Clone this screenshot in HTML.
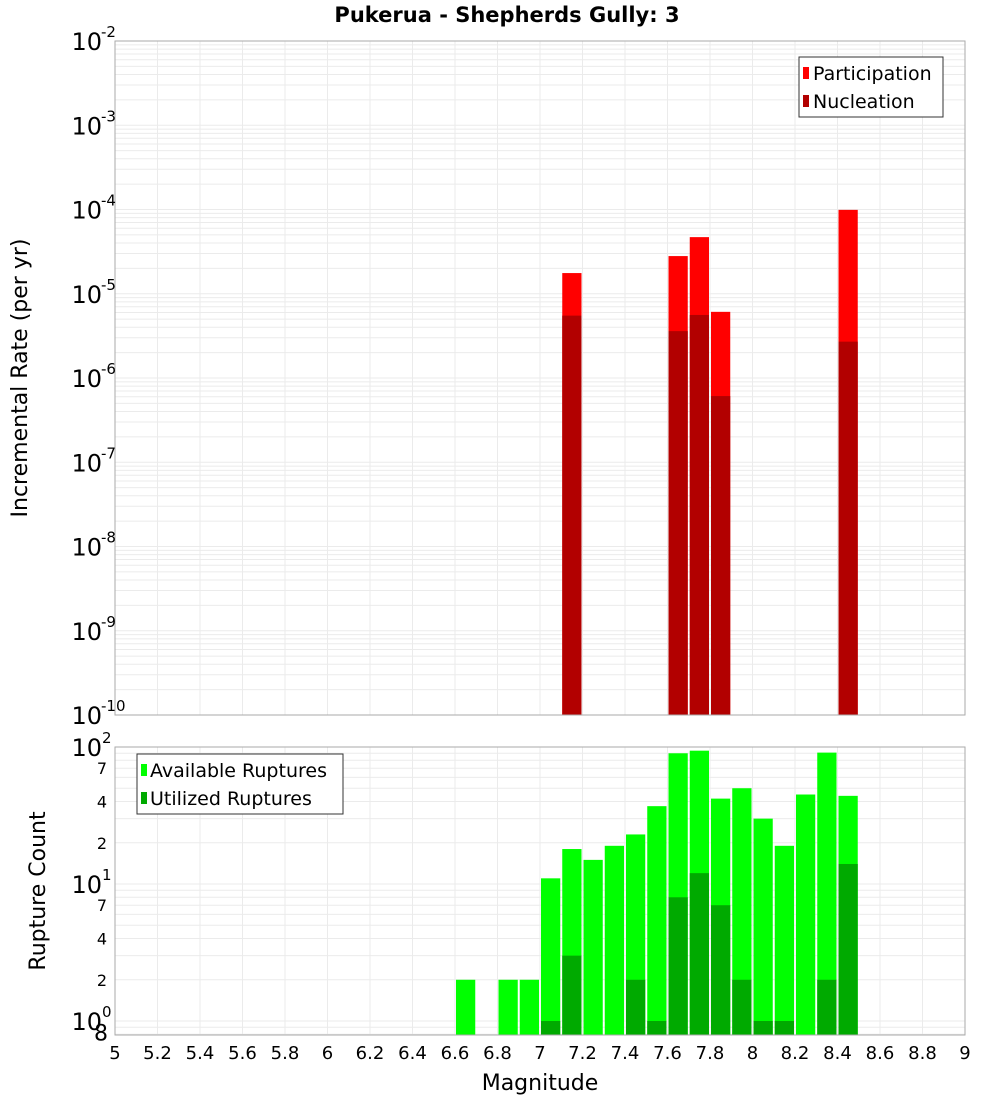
<!DOCTYPE html>
<html><head><meta charset="utf-8"><style>
body{margin:0;background:#fff;}
svg text{font-family:"DejaVu Sans","Liberation Sans",sans-serif;}
</style></head><body>
<svg id="c" width="1000" height="1100" xmlns="http://www.w3.org/2000/svg">
<rect width="1000" height="1100" fill="#fff"/>
<text x="507" y="22" text-anchor="middle" font-size="21" font-weight="bold">Pukerua - Shepherds Gully: 3</text>
<g id="topg"></g><g id="botg"></g>
<text transform="translate(27,378) rotate(-90)" text-anchor="middle" font-size="22">Incremental Rate (per yr)</text>
<text transform="translate(45,891) rotate(-90)" text-anchor="middle" font-size="22">Rupture Count</text>
<text x="540" y="1090" text-anchor="middle" font-size="22">Magnitude</text>
</svg>
<script>
const mags=[7.15,7.65,7.75,7.85,8.45];
const participation=[1.76e-5,2.8e-5,4.7e-5,6.1e-6,9.9e-5];
const nucleation=[5.5e-6,3.6e-6,5.6e-6,6.1e-7,2.7e-6];
const countMags=[6.65,6.85,6.95,7.05,7.15,7.25,7.35,7.45,7.55,7.65,7.75,7.85,7.95,8.05,8.15,8.25,8.35,8.45];
const available=[2,2,2,11,18,15,19,23,37,90,94,42,50,30,19,45,91,44];
const utilized=[0,0,0,1,3,0,0,2,1,8,12,7,2,1,1,0,2,14];
const xTicks=[5,5.2,5.4,5.6,5.8,6,6.2,6.4,6.6,6.8,7,7.2,7.4,7.6,7.8,8,8.2,8.4,8.6,8.8,9];

const NS="http://www.w3.org/2000/svg";
const X0=115,X1=965;
const x=m=>X0+(m-5)/4*(X1-X0);
const T0=41,T1=715;
const yTop=v=>T0+(-2-Math.log10(v))/8*(T1-T0);
const B0=747,B1=1035,DEC=137;
const yBot=v=>884-(Math.log10(v)-1)*DEC;
function el(p,t,a){const e=document.createElementNS(NS,t);for(const k in a)e.setAttribute(k,a[k]);p.appendChild(e);return e;}
const topG=document.getElementById('topg'),botG=document.getElementById('botg');

for(let d=-10;d<-2;d++){for(let k=1;k<10;k++){const y=yTop(k*Math.pow(10,d));const g=el(topG,'line',{x1:X0,x2:X1,y1:y,y2:y,stroke:'#ebebeb','stroke-width':1});

}}
for(const t of xTicks){const g=el(topG,'line',{x1:x(t),x2:x(t),y1:T0,y2:T1,stroke:'#ebebeb'});


const g2=el(botG,'line',{x1:x(t),x2:x(t),y1:B0,y2:B1,stroke:'#ebebeb'});

}
const bw=(X1-X0)/40;
mags.forEach((m,i)=>{
 const r=el(topG,'rect',{x:x(m)-bw/2+1,y:yTop(participation[i]),width:bw-2,height:T1-yTop(participation[i]),fill:'#ff0000'});
 
 
 const n=el(topG,'rect',{x:x(m)-bw/2+1,y:yTop(nucleation[i]),width:bw-2,height:T1-yTop(nucleation[i]),fill:'#b20000'});
 
 
});
const tf=el(topG,'rect',{x:X0,y:T0,width:X1-X0,height:T1-T0,fill:'none',stroke:'#aaa'});


for(let d=-10;d<=-2;d++){const y=yTop(Math.pow(10,d));
 const t=el(topG,'text',{x:102,y:y+9,'text-anchor':'end','font-size':24});t.textContent='10';
 
 
 const s=el(topG,'text',{x:101,y:y-4,'font-size':15});s.textContent=String(d);
 
 }
const lg=el(topG,'g',{});


el(lg,'rect',{x:799,y:57,width:144,height:60,fill:'#fff',stroke:'#333'});
el(lg,'rect',{x:803,y:67,width:6,height:12,fill:'#ff0000'});
el(lg,'rect',{x:803,y:95,width:6,height:12,fill:'#b20000'});
const l1=el(lg,'text',{x:813,y:80,'font-size':19});l1.textContent='Participation';


const l2=el(lg,'text',{x:813,y:108,'font-size':19});l2.textContent='Nucleation';



for(let d=-1;d<2;d++){for(let k=1;k<10;k++){const v=k*Math.pow(10,d);const y=yBot(v);if(y>B1||y<B0)continue;
 const g=el(botG,'line',{x1:X0,x2:X1,y1:y,y2:y,stroke:'#ebebeb'});
 
 }}
countMags.forEach((m,i)=>{
 const r=el(botG,'rect',{x:x(m)-bw/2+1,y:yBot(available[i]),width:bw-2,height:B1-yBot(available[i]),fill:'#00ff00'});
 
 
 if(utilized[i]>0){const u=el(botG,'rect',{x:x(m)-bw/2+1,y:yBot(utilized[i]),width:bw-2,height:B1-yBot(utilized[i]),fill:'#00aa00'});
 
 }
});
const bf=el(botG,'rect',{x:X0,y:B0,width:X1-X0,height:B1-B0,fill:'none',stroke:'#aaa'});


[[1,'0'],[10,'1'],[100,'2']].forEach(([v,e])=>{const y=yBot(v);
 const t=el(botG,'text',{x:102,y:y+9,'text-anchor':'end','font-size':24});t.textContent='10';
 
 
 const s=el(botG,'text',{x:102,y:y-4,'font-size':15});s.textContent=e;
 
 });
[[0.8,'8'],[2,'2'],[4,'4'],[7,'7'],[20,'2'],[40,'4'],[70,'7']].forEach(([v,l])=>{const y=yBot(v);
 const t=el(botG,'text',{x:v<1?108:107,y:y+6,'text-anchor':'end','font-size':v<1?22:16});t.textContent=l;
 
 });
const bl=el(botG,'g',{});


el(bl,'rect',{x:137,y:754,width:206,height:60,fill:'#fff',stroke:'#333'});
el(bl,'rect',{x:141,y:764,width:6,height:12,fill:'#00ff00'});
el(bl,'rect',{x:141,y:792,width:6,height:12,fill:'#00aa00'});
const b1=el(bl,'text',{x:150,y:777,'font-size':19});b1.textContent='Available Ruptures';


const b2=el(bl,'text',{x:150,y:805,'font-size':19});b2.textContent='Utilized Ruptures';


xTicks.forEach(t=>{const tx=el(botG,'text',{x:x(t),y:1059,'text-anchor':'middle','font-size':18});
 tx.textContent=String(t);
 
 });
</script>
</body></html>
